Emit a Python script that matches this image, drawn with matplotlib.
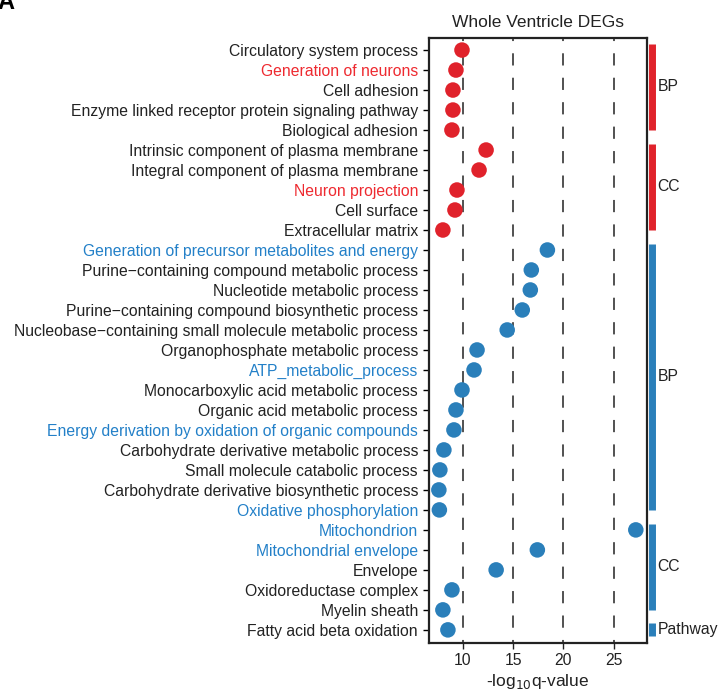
import matplotlib.pyplot as plt
import matplotlib.transforms as mtransforms

plt.rcParams['font.family'] = ['Liberation Sans', 'DejaVu Sans']

terms = [
    'Circulatory system process', 'Generation of neurons', 'Cell adhesion',
    'Enzyme linked receptor protein signaling pathway', 'Biological adhesion',
    'Intrinsic component of plasma membrane', 'Integral component of plasma membrane',
    'Neuron projection', 'Cell surface', 'Extracellular matrix',
    'Generation of precursor metabolites and energy',
    'Purine\u2212containing compound metabolic process', 'Nucleotide metabolic process',
    'Purine\u2212containing compound biosynthetic process',
    'Nucleobase\u2212containing small molecule metabolic process',
    'Organophosphate metabolic process', 'ATP_metabolic_process',
    'Monocarboxylic acid metabolic process', 'Organic acid metabolic process',
    'Energy derivation by oxidation of organic compounds',
    'Carbohydrate derivative metabolic process', 'Small molecule catabolic process',
    'Carbohydrate derivative biosynthetic process', 'Oxidative phosphorylation',
    'Mitochondrion', 'Mitochondrial envelope', 'Envelope', 'Oxidoreductase complex',
    'Myelin sheath', 'Fatty acid beta oxidation',
]
qvals = [9.9, 9.3, 9.0, 9.0, 8.9, 12.3, 11.6, 9.4, 9.2, 8.0,
         18.4, 16.8, 16.7, 15.9, 14.4, 11.4, 11.1, 9.9, 9.3, 9.1,
         8.1, 7.7, 7.6, 7.65, 27.2, 17.4, 13.3, 8.9, 8.0, 8.5]
direction = ['up'] * 10 + ['down'] * 20
highlight = ['Generation of neurons', 'Neuron projection',
             'Generation of precursor metabolites and energy', 'ATP_metabolic_process',
             'Energy derivation by oxidation of organic compounds',
             'Oxidative phosphorylation', 'Mitochondrion', 'Mitochondrial envelope']

# group name, first row, last row, direction
groups = [('BP', 0, 4, 'up'), ('CC', 5, 9, 'up'), ('BP', 10, 23, 'down'),
          ('CC', 24, 28, 'down'), ('Pathway', 29, 29, 'down')]

red = '#E0222B'
blue = '#2A7FBA'
text_red = '#EE2A30'
text_blue = '#2380C8'
cols = {'up': red, 'down': blue}
tcols = {'up': text_red, 'down': text_blue}

fig = plt.figure(figsize=(7.2, 6.92), dpi=100)
ax = fig.add_axes([0.596, 0.071, 0.302, 0.874])

y = list(range(len(terms)))
ax.scatter(qvals, y, s=125, c=[cols[d] for d in direction], zorder=3, linewidths=0)
for v in [10, 15, 20, 25]:
    ax.axvline(v, color='#222222', linestyle=(6, (8, 8)), linewidth=1.1, zorder=1)

ax.set_xlim(6.63, 28.27)
ax.set_ylim(29.65, -0.6)
ax.set_yticks(y)
ax.set_yticklabels(terms, fontsize=11.3)
for lab, term, d in zip(ax.get_yticklabels(), terms, direction):
    lab.set_color(tcols[d] if term in highlight else '#222222')
ax.set_xticks([10, 15, 20, 25])
ax.tick_params(axis='x', labelsize=11.3, length=4, width=1, colors='#222222')
ax.tick_params(axis='y', length=4, width=1, pad=4)
for sp in ax.spines.values():
    sp.set_linewidth(1.6)
    sp.set_color('#222222')
ax.set_title('Whole Ventricle DEGs', fontsize=12.5, pad=8, color='#222222')
ax.set_xlabel('-log$_{10}$q-value', fontsize=12.5, color='#222222', labelpad=3)

trans = mtransforms.blended_transform_factory(ax.transAxes, ax.transData)
for name, a, b, d in groups:
    y0 = a - 0.32
    y1 = b + 0.0 if b > a else b + 0.3
    ax.plot([1.024, 1.024], [y0, y1], transform=trans, color=cols[d],
            linewidth=5, solid_capstyle='butt', clip_on=False)
    ax.text(1.05, (y0 + y1) / 2, name, transform=trans, fontsize=11.3,
            va='center', ha='left', color='#222222')

fig.text(-0.004, 0.997, 'A', fontsize=17, fontweight='bold', va='center', ha='left')

fig.savefig('out.png', dpi=100)
